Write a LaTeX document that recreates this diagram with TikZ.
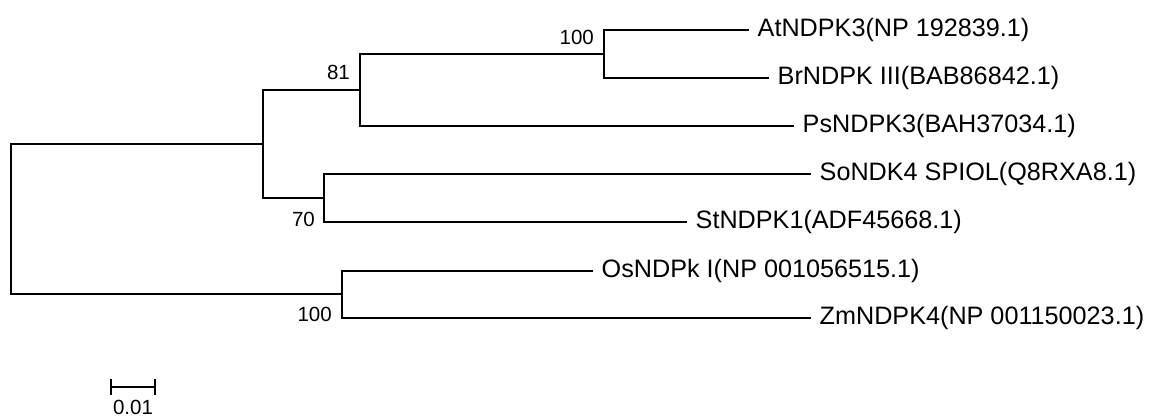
\documentclass[tikz,border=0pt]{standalone}
\usepackage{fontspec}
\setmainfont{Liberation Sans}
\begin{document}
\begin{tikzpicture}[x=1pt,y=-1pt,
  branch/.style={line width=1.7pt,line cap=rect},
  leaf/.style={anchor=base west,inner sep=0pt,xshift=9.5pt,yshift=-7pt,font=\fontsize{25.2}{28}\selectfont},
  boot/.style={anchor=base east,inner sep=0pt,font=\fontsize{20.5}{22}\selectfont},
  scalelab/.style={anchor=base,inner sep=0pt,font=\fontsize{20.5}{22}\selectfont}]
\useasboundingbox (0,0) rectangle (1151,419);
% internal nodes
\coordinate (root) at (11,219);
\coordinate (nA) at (263,144);
\coordinate (n81) at (360,90);
\coordinate (n100a) at (604,54);
\coordinate (n70) at (324,198);
\coordinate (n100b) at (342,294);
% leaf tips
\coordinate (tAt) at (748,30);
\coordinate (tBr) at (768,78);
\coordinate (tPs) at (793,126);
\coordinate (tSo) at (810,174);
\coordinate (tSt) at (686,222);
\coordinate (tOs) at (592,271);
\coordinate (tZm) at (810,318);
% branches
\draw[branch] (root) |- (nA);
\draw[branch] (root) |- (n100b);
\draw[branch] (nA) |- (n81);
\draw[branch] (nA) |- (n70);
\draw[branch] (n81) |- (n100a);
\draw[branch] (n81) |- (tPs);
\draw[branch] (n100a) |- (tAt);
\draw[branch] (n100a) |- (tBr);
\draw[branch] (n70) |- (tSo);
\draw[branch] (n70) |- (tSt);
\draw[branch] (n100b) |- (tOs);
\draw[branch] (n100b) |- (tZm);
% leaf labels
\node[leaf] (lAt) at (tAt) {AtNDPK3(NP 192839.1)};
\node[leaf] (lBr) at (tBr) {BrNDPK III(BAB86842.1)};
\node[leaf] (lPs) at (tPs) {PsNDPK3(BAH37034.1)};
\node[leaf] (lSo) at (tSo) {SoNDK4 SPIOL(Q8RXA8.1)};
\node[leaf] (lSt) at (tSt) {StNDPK1(ADF45668.1)};
\node[leaf] (lOs) at (tOs) {OsNDPk I(NP 001056515.1)};
\node[leaf] (lZm) at (tZm) {ZmNDPK4(NP 001150023.1)};
% bootstrap values
\node[boot] (b100a) at (594,45) {100};
\node[boot] (b81) at (350,80) {81};
\node[boot] (b70) at (315,227) {70};
\node[boot] (b100b) at (332,322) {100};
% scale bar
\coordinate (sL) at (111,387);
\coordinate (sR) at (155,387);
\draw[line width=1.7pt] (sL) -- (sR);
\draw[line width=1.7pt] ([yshift=-8pt]sL) -- ([yshift=8pt]sL);
\draw[line width=1.7pt] ([yshift=-8pt]sR) -- ([yshift=8pt]sR);
\node[scalelab] (slab) at (133,414) {0.01};
\end{tikzpicture}
\end{document}
